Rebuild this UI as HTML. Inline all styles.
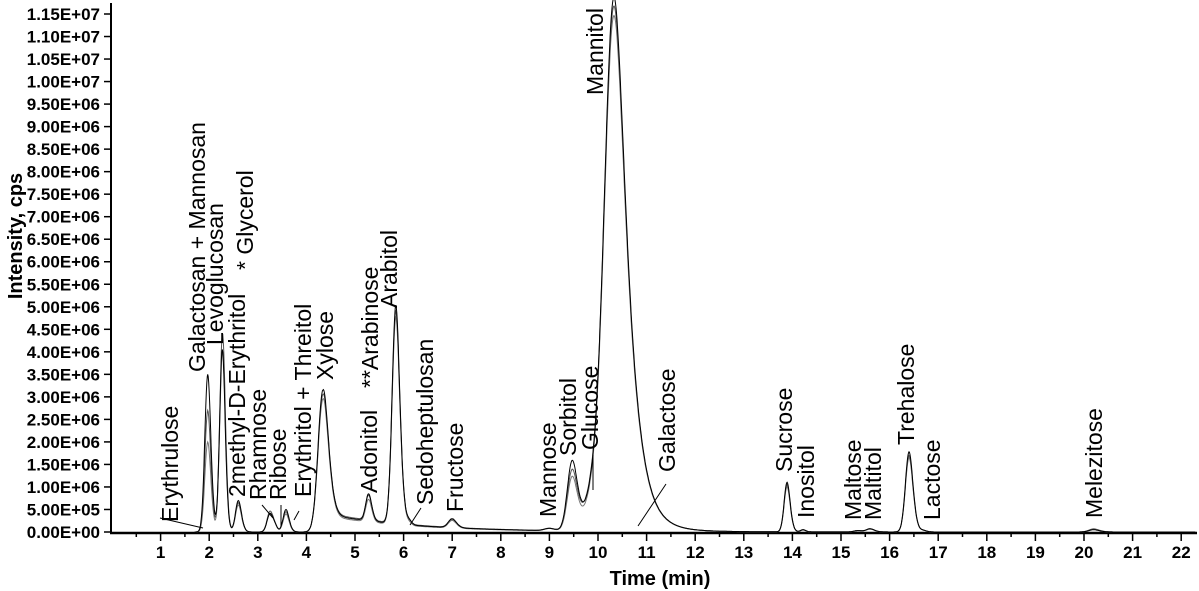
<!DOCTYPE html>
<html><head><meta charset="utf-8"><style>
html,body{margin:0;padding:0;background:#fff;}
svg{display:block;font-family:"Liberation Sans",Arial,sans-serif;}
</style></head><body>
<svg id="chart" width="1199" height="591" viewBox="0 0 1199 591" xmlns="http://www.w3.org/2000/svg">
<g id="axes"></g>
<g id="traces"></g>
<g id="labels"></g>
<text x="660" y="585" font-size="20" font-weight="bold" text-anchor="middle">Time (min)</text>
<text transform="translate(22,236) rotate(-90)" font-size="20" font-weight="bold" text-anchor="middle">Intensity, cps</text>
</svg>
<script>
// ---- data ----
const peakNames = ["Galactosan","Levoglucosan","Glycerol*","2methyl","Rhamnose","Ribose","ErythritolThreitol","Xylose","Adonitol","Arabitol","Sedoheptulosan","Fructose","Mannose","Sorbitol","Glucose","Mannitol","Galactose","Sucrose","Inositol","Maltose","Maltitol","Trehalose","Lactose","Melezitose"];
const peakTimes = [1.97,2.27,2.3,2.6,3.25,3.35,3.58,4.34,5.28,5.84,6.12,7.0,9.0,9.47,9.87,10.33,10.9,13.89,14.22,15.35,15.6,16.4,16.7,20.2];
const peakSigma = [0.06,0.055,0.05,0.06,0.06,0.05,0.06,0.1,0.06,0.075,0.05,0.08,0.1,0.1,0.15,0.2,0.15,0.06,0.05,0.08,0.08,0.075,0.06,0.1];
const seriesA = [3.5e6,4.05e6,0,0.7e6,0.4e6,0.1e6,0.5e6,3.15e6,0.6e6,4.85e6,0.08e6,0.2e6,0.05e6,1.55e6,0.6e6,11.8e6,0.05e6,1.1e6,0.05e6,0.03e6,0.07e6,1.78e6,0.03e6,0.05e6];
const seriesB = [2.7e6,3.9e6,0.6e6,0.65e6,0.45e6,0.1e6,0.45e6,3.05e6,0.55e6,4.7e6,0.06e6,0.18e6,0.05e6,1.35e6,0.65e6,11.6e6,0.05e6,1.05e6,0.05e6,0.03e6,0.07e6,1.7e6,0.03e6,0.07e6];
const seriesC = [2.0e6,3.6e6,0.5e6,0.6e6,0.4e6,0.1e6,0.4e6,2.95e6,0.5e6,4.6e6,0.05e6,0.17e6,0.05e6,1.2e6,0.55e6,11.4e6,0.05e6,1.0e6,0.04e6,0.03e6,0.06e6,1.65e6,0.03e6,0.06e6];
const xTicks = [1,2,3,4,5,6,7,8,9,10,11,12,13,14,15,16,17,18,19,20,21,22];
const yTickValues = [0,0.5e6,1e6,1.5e6,2e6,2.5e6,3e6,3.5e6,4e6,4.5e6,5e6,5.5e6,6e6,6.5e6,7e6,7.5e6,8e6,8.5e6,9e6,9.5e6,1e7,1.05e7,1.1e7,1.15e7];
const yTickLabels = ["0.00E+00","5.00E+05","1.00E+06","1.50E+06","2.00E+06","2.50E+06","3.00E+06","3.50E+06","4.00E+06","4.50E+06","5.00E+06","5.50E+06","6.00E+06","6.50E+06","7.00E+06","7.50E+06","8.00E+06","8.50E+06","9.00E+06","9.50E+06","1.00E+07","1.05E+07","1.10E+07","1.15E+07"];
const labelTexts = ["Erythrulose","Galactosan + Mannosan","Levoglucosan","* Glycerol","2methyl-D-Erythritol","Rhamnose","Ribose","Erythritol + Threitol","Xylose","**Arabinose","Arabitol","Adonitol","Sedoheptulosan","Fructose","Mannose","Sorbitol","Glucose","Galactose","Mannitol","Sucrose","Inositol","Maltose","Maltitol","Trehalose","Lactose","Melezitose"];
const labelX = [178,205,223,253,245,266,286,311,333,378,397,377,433,463,556,576,598,675,603,792,814,861,881,914,940,1102];
const labelY = [522,372,345,270,497,500,500,497,380,388,308,493,505,512,517,456,450,472,95,472,518,520,520,445,520,518];

// ---- scales ----
const X0=112, XS=48.6, Y0=532, YS=518/1.15e7;
const xs = t => X0 + t*XS;
const ys = v => Y0 - v*YS;
const NS="http://www.w3.org/2000/svg";
function mk(tag, attrs, parent){const e=document.createElementNS(NS,tag);for(const k in attrs)e.setAttribute(k,attrs[k]);parent.appendChild(e);return e;}

const axes=document.getElementById('axes');
const yAxis=mk('line',{x1:111,y1:3,x2:111,y2:533,stroke:'#000','stroke-width':2},axes);


const xAxis=mk('line',{x1:110,y1:533,x2:1197,y2:533,stroke:'#000','stroke-width':2.5},axes);


yTickValues.forEach((v,i)=>{
  const y=ys(v);
  const tk=mk('line',{x1:104,y1:y,x2:111,y2:y,stroke:'#000','stroke-width':1.5},axes);
  
  
  const tx=mk('text',{x:100,y:y+6,'font-size':17,'font-weight':'bold','text-anchor':'end'},axes);
  tx.textContent=yTickLabels[i];
  
  
});
for(let t=0.5;t<=22.3;t+=0.5){
  const major=Math.abs(t-Math.round(t))<0.01;
  const tk=mk('line',{x1:xs(t),y1:533,x2:xs(t),y2:major?541:537,stroke:'#000','stroke-width':1.5},axes);
  
  
}
xTicks.forEach(t=>{
  const tx=mk('text',{x:xs(t),y:558,'font-size':17,'font-weight':'bold','text-anchor':'middle'},axes);
  tx.textContent=String(t);
  
  
});

// ---- traces ----
function signal(t, heights, tailAmp){
  let s=0;
  for(let i=0;i<peakTimes.length;i++){
    const d=t-peakTimes[i], sg=peakSigma[i];
    const sig = d>0 ? sg*(1+d*0.9) : sg;
    s+=heights[i]*Math.exp(-0.5*(d/sig)*(d/sig));
  }
  const ix=peakTimes[7];
  if(t>ix) s+=tailAmp*Math.exp(-(t-ix)/1.8)*(1-Math.exp(-(t-ix)/0.15));
  return s;
}
const traces=document.getElementById('traces');
[[seriesC,'#777',0.38e6],[seriesB,'#555',0.45e6],[seriesA,'#000',0.42e6]].forEach((sr,k)=>{
  let d='';
  for(let t=1.7;t<=22.3;t+=0.01){
    const v=signal(t,sr[0],sr[2]);
    d+=(d?'L':'M')+xs(t).toFixed(1)+','+Math.min(ys(v),532).toFixed(1);
  }
  const p=mk('path',{d:d,fill:'none',stroke:sr[1],'stroke-width':1},traces);
  
  
});

// ---- labels ----
const lg=document.getElementById('labels');
labelTexts.forEach((s,i)=>{
  const tx=mk('text',{transform:`translate(${labelX[i]},${labelY[i]}) rotate(-90)`,'font-size':23},lg);
  tx.textContent=s;
  
  
});
const leaders=[[160,518,203,528],[262,505,273,518],[281,505,281,526],[299,511,294,520],[593,455,593,490],[666,484,638,526],[421,508,410,525]];
leaders.forEach(l=>{
  const ln=mk('line',{x1:l[0],y1:l[1],x2:l[2],y2:l[3],stroke:'#000','stroke-width':1},lg);
  
  
});
</script>
</body></html>
